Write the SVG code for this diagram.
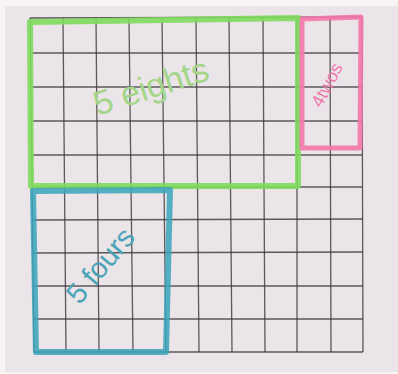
<svg xmlns="http://www.w3.org/2000/svg" width="398" height="374" viewBox="0 0 398 374">
<style>
.grid line{stroke:#3a3538;stroke-width:1.3;opacity:.8}
.box{fill:none;stroke-linejoin:round;stroke-linecap:round}
.lbl{font-family:"Liberation Sans","DejaVu Sans",sans-serif;font-weight:normal}
</style>
<rect x="0" y="0" width="398" height="374" fill="#f6f4f5"/>
<rect x="5" y="6" width="393" height="366" fill="#ebe5e9"/>
<g class="grid">
<line x1="30" y1="18" x2="34" y2="352"/>
<line x1="63" y1="18" x2="66" y2="352"/>
<line x1="96" y1="18" x2="99" y2="352"/>
<line x1="129" y1="18" x2="133" y2="352"/>
<line x1="162" y1="18" x2="166" y2="352"/>
<line x1="196" y1="18" x2="199" y2="352"/>
<line x1="229" y1="18" x2="232" y2="352"/>
<line x1="263" y1="18" x2="265" y2="352"/>
<line x1="297" y1="18" x2="297" y2="352"/>
<line x1="330" y1="18" x2="331" y2="352"/>
<line x1="362" y1="17" x2="363" y2="352"/>
<line x1="30" y1="18" x2="362" y2="17"/>
<line x1="30" y1="53" x2="362" y2="53"/>
<line x1="31" y1="87" x2="362" y2="87"/>
<line x1="31" y1="121" x2="362" y2="121"/>
<line x1="31" y1="155" x2="362" y2="155"/>
<line x1="32" y1="187" x2="362" y2="187"/>
<line x1="32" y1="220" x2="363" y2="219"/>
<line x1="33" y1="253" x2="363" y2="252"/>
<line x1="33" y1="286" x2="363" y2="286"/>
<line x1="34" y1="319" x2="363" y2="319"/>
<line x1="34" y1="352" x2="363" y2="352"/>
</g>
<g id="eights">
<path class="box" d="M30 22 L298 18 L298 186 L31 186 Z" stroke="#7fdc5c" stroke-width="6" opacity=".9"/>
<text class="lbl" x="152" y="98" font-size="34" fill="#a3d688" transform="rotate(-18 152 90)" text-anchor="middle">5 eights</text>
</g>
<g id="twos">
<path class="box" d="M302 19 L361 17 L360 148 L302 148 Z" stroke="#f477ab" stroke-width="5" opacity=".9"/>
<text class="lbl" x="327" y="91" font-size="18" fill="#f07aac" transform="rotate(-62 327 85)" text-anchor="middle">4twos</text>
</g>
<g id="fours">
<path class="box" d="M33 191 L170 190 L166 352 L36 352 Z" stroke="#3aa5bb" stroke-width="6" opacity=".85"/>
<text class="lbl" x="101" y="275" font-size="29" fill="#4ba4b8" transform="rotate(-50 101 266)" text-anchor="middle">5 fours</text>
</g>
</svg>
